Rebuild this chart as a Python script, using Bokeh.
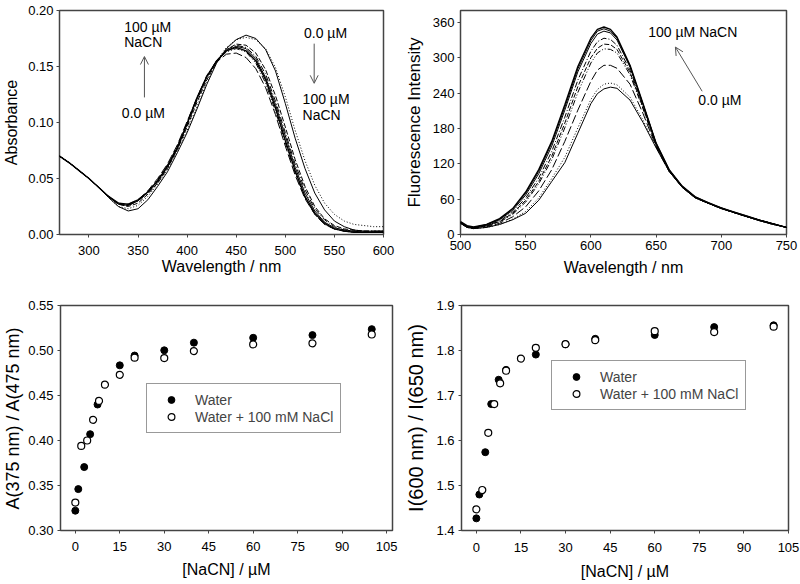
from bokeh.plotting import figure
from bokeh.layouts import row, column
from bokeh.models import (Range1d, FixedTicker, PrintfTickFormatter, Label, Arrow,
                          OpenHead, Legend, LegendItem)
from bokeh.embed import file_html
from bokeh.resources import INLINE

FONT = "Liberation Sans"

# ---------------- Absorbance spectra (top-left) ----------------
abs_wl = [270, 280, 290, 300, 310, 320, 330, 340, 350, 360, 370, 380, 390, 400, 410, 420, 430,
          440, 450, 460, 470, 480, 490, 500, 510, 520, 530, 540, 550, 560, 570, 580, 590, 600]
abs_0uM = [.070, .064, .057, .050, .042, .033, .025, .021, .023, .031, .043, .056, .073, .091, .112, .134, .153,
           .166, .174, .178, .175, .165, .146, .117, .086, .059, .037, .022, .012, .007, .004, .003, .003, .003]
abs_dot = [.070, .064, .057, .050, .042, .033, .025, .023, .026, .034, .045, .058, .075, .093, .114, .136, .155,
           .167, .174, .176, .174, .166, .149, .123, .093, .066, .044, .028, .018, .012, .009, .008, .007, .007]
abs_dash = [.070, .064, .057, .050, .042, .034, .027, .025, .028, .036, .046, .059, .076, .096, .118, .138, .154,
            .165, .170, .169, .162, .147, .124, .096, .067, .043, .025, .014, .008, .005, .004, .003, .003, .003]
abs_dashdot = [.070, .064, .057, .050, .042, .034, .027, .026, .030, .037, .047, .060, .077, .098, .120, .140, .155,
               .165, .169, .167, .159, .143, .119, .091, .063, .040, .023, .013, .007, .004, .003, .003, .003, .003]
abs_solid2 = [.070, .064, .057, .050, .042, .034, .027, .026, .030, .038, .048, .061, .078, .099, .121, .141, .155,
              .164, .168, .166, .157, .140, .116, .088, .060, .037, .021, .011, .006, .004, .003, .002, .002, .002]
abs_100uM = [.070, .064, .057, .050, .042, .034, .028, .027, .031, .038, .048, .061, .077, .099, .122, .141, .155,
             .164, .167, .164, .155, .138, .113, .084, .057, .034, .019, .010, .005, .003, .002, .002, .002, .002]
abs_dashdotdot = [.070, .064, .057, .050, .042, .034, .027, .026, .030, .038, .049, .062, .079, .100, .122, .142, .155,
                  .163, .166, .163, .153, .135, .110, .082, .055, .033, .018, .009, .005, .003, .002, .002, .002, .002]
abs_longdash = [.070, .064, .057, .050, .042, .034, .028, .027, .031, .039, .050, .063, .080, .101, .122, .141, .154,
                .161, .162, .158, .148, .131, .107, .079, .053, .032, .018, .009, .005, .003, .002, .002, .002, .002]

abs_curves = [abs_0uM, abs_dot, abs_dash, abs_dashdot, abs_solid2, abs_dashdotdot, abs_longdash, abs_100uM]
abs_dashes = ["solid", "1 2", "5 2", "6 2 1 2", "solid", "6 2 1 2 1 2", "9 3", "solid"]
abs_widths = [1.0, 1.0, 1.0, 1.0, 1.0, 1.0, 1.0, 1.4]

# ---------------- Fluorescence spectra (top-right) ----------------
fl_wl = [500, 505, 510, 520, 530, 540, 550, 560, 570, 580, 590, 600, 605, 610, 615, 620, 630,
         640, 650, 660, 670, 680, 690, 700, 710, 720, 730, 740, 750]
fl_100uM = [22, 15, 13, 17, 27, 44, 72, 110, 158, 220, 285, 333, 348, 352, 348, 335, 287,
            222, 155, 110, 82, 64, 54, 45, 38, 31, 24, 18, 12]
fl_s2 = [21, 14, 12, 17, 26, 43, 70, 107, 155, 216, 281, 329, 345, 349, 345, 333, 286,
         221, 155, 110, 82, 64, 54, 45, 38, 31, 24, 18, 12]
fl_s3 = [21, 14, 12, 16, 25, 41, 67, 103, 150, 211, 276, 324, 340, 345, 342, 330, 284,
         220, 154, 109, 81, 63, 53, 45, 37, 30, 24, 18, 12]
fl_dashdot = [20, 13, 11, 15, 23, 38, 62, 96, 141, 199, 262, 311, 327, 333, 331, 321, 279,
              218, 153, 109, 81, 63, 53, 45, 37, 30, 24, 18, 12]
fl_dash = [20, 13, 11, 15, 22, 36, 58, 90, 133, 189, 251, 300, 316, 323, 322, 314, 275,
           215, 152, 108, 81, 63, 53, 44, 37, 30, 24, 18, 12]
fl_dashdotdot = [20, 13, 11, 14, 21, 34, 55, 86, 127, 181, 241, 291, 308, 315, 314, 308, 271,
                 213, 151, 108, 80, 63, 53, 44, 37, 30, 23, 17, 12]
fl_longdash = [19, 12, 10, 13, 19, 30, 47, 74, 110, 158, 211, 260, 279, 287, 287, 282, 255,
               205, 149, 107, 80, 62, 53, 44, 37, 30, 23, 17, 12]
fl_dot = [19, 12, 10, 12, 17, 26, 39, 62, 95, 131, 181, 229, 246, 255, 257, 254, 233,
          194, 148, 107, 80, 62, 53, 44, 37, 30, 23, 17, 12]
fl_0uM = [19, 12, 10, 12, 17, 25, 36, 58, 90, 122, 172, 222, 239, 247, 250, 248, 228,
          190, 147, 107, 80, 62, 53, 44, 37, 30, 23, 17, 12]

fl_curves = [fl_100uM, fl_s2, fl_s3, fl_dashdot, fl_dash, fl_dashdotdot, fl_longdash, fl_dot, fl_0uM]
fl_dashes = ["solid", "solid", "solid", "6 2 1 2", "5 2", "6 2 1 2 1 2", "9 3", "1 2", "solid"]
fl_widths = [1.4, 1.0, 1.0, 1.0, 1.0, 1.0, 1.0, 1.0, 1.0]

# ---------------- Ratio plots (bottom) ----------------
a_water_x = [0, 1, 3, 5, 7.5, 15, 20, 30, 40, 60, 80, 100]
a_water_y = [0.322, 0.346, 0.3705, 0.407, 0.440, 0.4835, 0.4944, 0.5002, 0.5087, 0.5141, 0.5171, 0.5237]
a_nacl_x = [0, 2, 4, 6, 8, 10, 15, 20, 30, 40, 60, 80, 100]
a_nacl_y = [0.331, 0.394, 0.400, 0.423, 0.444, 0.462, 0.473, 0.492, 0.4916, 0.4994, 0.5068, 0.508, 0.5178]

i_water_x = [0, 1, 3, 5, 7.5, 10, 20, 30, 40, 60, 80, 100]
i_water_y = [1.427, 1.48, 1.574, 1.681, 1.735, 1.757, 1.791, 1.814, 1.826, 1.8345, 1.852, 1.856]
i_nacl_x = [0, 2, 4, 6, 8, 10, 15, 20, 30, 40, 60, 80, 100]
i_nacl_y = [1.447, 1.49, 1.617, 1.681, 1.727, 1.755, 1.782, 1.806, 1.814, 1.823, 1.843, 1.841, 1.853]

conc_ticks = [0, 15, 30, 45, 60, 75, 90, 105]
legend_labels = ["Water", "Water + 100 mM NaCl"]


def style(p, xlabel, ylabel, xticks, yticks, yfmt=None, ylabel_size="16px",
          xlabel_size="16px", ylab_standoff=0, xlab_standoff=0, xtick_standoff=4,
          ytick_standoff=3):
    p.outline_line_color = "#444444"
    p.outline_line_width = 1.5
    p.xgrid.visible = False
    p.ygrid.visible = False
    p.background_fill_color = "white"
    p.border_fill_color = "white"
    p.xaxis.axis_label = xlabel
    p.yaxis.axis_label = ylabel
    p.xaxis.ticker = FixedTicker(ticks=xticks)
    p.yaxis.ticker = FixedTicker(ticks=yticks)
    if yfmt:
        p.yaxis.formatter = PrintfTickFormatter(format=yfmt)
    for ax in p.xaxis + p.yaxis:
        ax.axis_line_color = None
        ax.major_tick_in = 0
        ax.major_tick_out = 3
        ax.major_tick_line_color = "#444444"
        ax.minor_tick_line_color = None
        ax.major_label_text_font = FONT
        ax.major_label_text_font_size = "13px"
        ax.major_label_text_color = "black"
        ax.axis_label_text_font = FONT
        ax.axis_label_text_font_style = "normal"
        ax.axis_label_text_color = "black"
    p.yaxis.major_label_standoff = ytick_standoff
    p.xaxis.major_label_standoff = xtick_standoff
    p.yaxis.axis_label_text_font_size = ylabel_size
    p.xaxis.axis_label_text_font_size = xlabel_size
    p.yaxis.axis_label_standoff = ylab_standoff
    p.xaxis.axis_label_standoff = xlab_standoff


def add_text(p, x, y, t):
    p.add_layout(Label(x=x, y=y, text=t, text_font=FONT, text_font_size="14px",
                       text_baseline="middle", text_align="left", text_color="black"))


def add_arrow(p, x0, y0, x1, y1):
    p.add_layout(Arrow(end=OpenHead(size=8, line_color="#555555", line_width=1),
                       x_start=x0, y_start=y0, x_end=x1, y_end=y1,
                       line_color="#555555", line_width=1))


# ---- top-left
p1 = figure(width=395, height=290, output_backend="svg", toolbar_location=None,
            x_range=Range1d(270, 600), y_range=Range1d(0, 0.20),
            min_border_left=58, min_border_right=12, min_border_top=8, min_border_bottom=56)
for ys, d, w in zip(abs_curves, abs_dashes, abs_widths):
    p1.line(abs_wl, ys, line_color="black", line_width=w, line_dash=d)
style(p1, "Wavelength / nm", "Absorbance", [300, 350, 400, 450, 500, 550, 600],
      [0, 0.05, 0.10, 0.15, 0.20], "%.2f", ylabel_size="16px", ylab_standoff=5,
      xtick_standoff=8, xlab_standoff=0)
add_text(p1, 335.9, 0.185, "100 µM")
add_text(p1, 335.9, 0.1715, "NaCN")
add_arrow(p1, 356.5, 0.1224, 356.5, 0.1589)
add_text(p1, 333.5, 0.1087, "0.0 µM")
add_text(p1, 519, 0.1795, "0.0 µM")
add_arrow(p1, 529.4, 0.1704, 529.4, 0.135)
add_text(p1, 517.6, 0.1206, "100 µM")
add_text(p1, 517.6, 0.1069, "NaCN")

# ---- top-right
p2 = figure(width=405, height=290, output_backend="svg", toolbar_location=None,
            x_range=Range1d(500, 750), y_range=Range1d(0, 380),
            min_border_left=65, min_border_right=14, min_border_top=10, min_border_bottom=53)
for ys, d, w in zip(fl_curves, fl_dashes, fl_widths):
    p2.line(fl_wl, ys, line_color="black", line_width=w, line_dash=d)
style(p2, "Wavelength / nm", "Fluorescence Intensity", [500, 550, 600, 650, 700, 750],
      [0, 60, 120, 180, 240, 300, 360], None, ylabel_size="17px", ylab_standoff=6,
      xtick_standoff=3, xlab_standoff=6)
add_text(p2, 644, 344, "100 µM NaCN")
add_arrow(p2, 685.3, 243, 664.8, 318)
add_text(p2, 682.4, 227.5, "0.0 µM")


def ratio_plot(width, mbl, mbr, mbt, mbb, xr, yr, wx, wy, nx, ny, ylabel, yticks, yfmt,
               ylabel_size, ylab_standoff, legend_loc, xtick_standoff, xlab_standoff):
    p = figure(width=width, height=294, output_backend="svg", toolbar_location=None,
               x_range=Range1d(*xr), y_range=Range1d(*yr),
               min_border_left=mbl, min_border_right=mbr, min_border_top=mbt, min_border_bottom=mbb)
    r1 = p.scatter(wx, wy, marker="circle", size=7, fill_color="black", line_color="black")
    r2 = p.scatter(nx, ny, marker="circle", size=7, fill_color="white", line_color="black",
                   line_width=1.2)
    style(p, "[NaCN] / µM", ylabel, conc_ticks, yticks, yfmt, ylabel_size=ylabel_size,
          ylab_standoff=ylab_standoff, xlab_standoff=xlab_standoff,
          xtick_standoff=xtick_standoff, ytick_standoff=4)
    leg = Legend(items=[LegendItem(label=legend_labels[0], renderers=[r1]),
                        LegendItem(label=legend_labels[1], renderers=[r2])],
                 location=legend_loc, border_line_color="#333333", border_line_width=1,
                 padding=7, spacing=0, margin=0, glyph_width=34, glyph_height=17,
                 label_height=17, label_standoff=7, label_text_font=FONT,
                 label_text_font_size="14px", background_fill_alpha=1.0)
    p.add_layout(leg)
    return p


p3 = ratio_plot(402, 60, 10, 15, 52, (-5, 107), (0.30, 0.55), a_water_x, a_water_y,
                a_nacl_x, a_nacl_y, "A(375 nm) / A(475 nm)",
                [0.30, 0.35, 0.40, 0.45, 0.50, 0.55], "%.2f", "18px", 2, (86, 97), 8, 7)
p4 = ratio_plot(398, 58, 12, 13, 54, (-5, 105), (1.4, 1.9), i_water_x, i_water_y,
                i_nacl_x, i_nacl_y, "I(600 nm) / I(650 nm)",
                [1.4, 1.5, 1.6, 1.7, 1.8, 1.9], "%.1f", "20px", 6, (90, 120), 9, 8)

layout = column(row(p1, p2), row(p3, p4))
open("out.html", "w").write(file_html(layout, INLINE))
